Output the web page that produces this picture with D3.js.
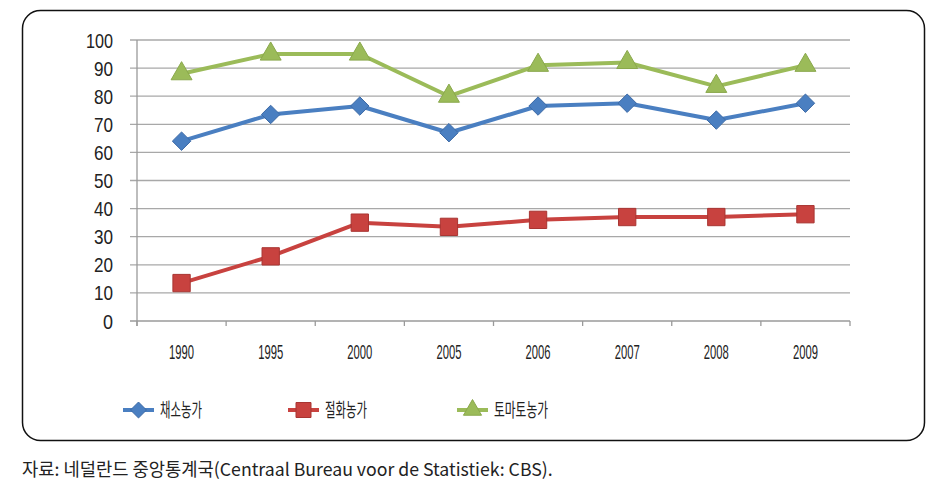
<!DOCTYPE html>
<html><head><meta charset="utf-8">
<script src="https://cdn.jsdelivr.net/npm/d3@7"></script>
<style>body{margin:0;background:#fff}svg{display:block}</style>
</head><body>
<svg id="c" width="943" height="497"></svg>
<script>
const years = ["1990","1995","2000","2005","2006","2007","2008","2009"];
const vegetable = [64, 73.5, 76.5, 67, 76.5, 77.5, 71.5, 77.5];
const flower = [13.5, 23, 35, 33.5, 36, 37, 37, 38];
const tomato = [88, 95, 95, 80, 91, 92, 83.5, 91];
const seriesNames = ["채소농가", "절화농가", "토마토농가"];
const yTicks = [0,10,20,30,40,50,60,70,80,90,100];
const source = "자료: 네덜란드 중앙통계국(Centraal Bureau voor de Statistiek: CBS).";

const svg = d3.select("#c");
svg.append("rect").attr("x",22.5).attr("y",10.5).attr("width",902).attr("height",430)
  .attr("rx",18).attr("fill","#fff").attr("stroke","#111").attr("stroke-width",1.5);

const x = d3.scaleBand().domain(years).range([137,850]);
const y = d3.scaleLinear().domain([0,100]).range([321,40]);
const numFont = "'Liberation Sans Narrow','Liberation Sans',Arial,sans-serif";

const g = svg.append("g");
g.selectAll("line.grid").data(yTicks).join("line")
  .attr("x1",130).attr("x2",850).attr("y1",d=>y(d)).attr("y2",d=>y(d))
  .attr("stroke",d=>d===0?"#9a9a9a":"#a8a8a8").attr("stroke-width",1.3);
g.append("line").attr("x1",137).attr("x2",137).attr("y1",40).attr("y2",326)
  .attr("stroke","#9a9a9a").attr("stroke-width",1.3);
const bounds = years.map(d=>x(d)).concat([850]);
g.selectAll("line.xt").data(bounds).join("line")
  .attr("x1",d=>d).attr("x2",d=>d).attr("y1",321).attr("y2",326)
  .attr("stroke","#9a9a9a").attr("stroke-width",1.3);
g.selectAll("text.yl").data(yTicks).join("text")
  .attr("x",113).attr("y",d=>y(d)).attr("dy","0.36em").attr("text-anchor","end")
  .attr("font-family",numFont).attr("font-size",21).attr("fill","#222")
  .attr("textLength",d=>String(d).length===3?27:(String(d).length===2?19:10))
  .attr("lengthAdjust","spacingAndGlyphs").text(d=>d);
g.selectAll("text.xl").data(years).join("text")
  .attr("x",d=>x(d)+x.bandwidth()/2).attr("y",351).attr("dy","0.36em").attr("text-anchor","middle")
  .attr("font-family",numFont).attr("font-size",21).attr("fill","#222")
  .attr("textLength",25).attr("lengthAdjust","spacingAndGlyphs").text(d=>d);

const diamond = {draw(ctx, size){const r=Math.sqrt(size/2);ctx.moveTo(0,-r);ctx.lineTo(r,0);ctx.lineTo(0,r);ctx.lineTo(-r,0);ctx.closePath();}};
const cx = d => x(d)+x.bandwidth()/2;
const series = [
  {name:seriesNames[0], vals:vegetable, color:"#4a7fc1", stroke:"#3d6aa6", shape:diamond, size:170, tl:42},
  {name:seriesNames[1], vals:flower, color:"#c8423f", stroke:"#a83532", shape:d3.symbolSquare, size:300, tl:42},
  {name:seriesNames[2], vals:tomato, color:"#9bbb59", stroke:"#8aa84c", shape:d3.symbolTriangle, size:190, tl:54}
];
const line = d3.line().x((d,i)=>cx(years[i])).y(d=>y(d));
series.forEach(s=>{
  g.append("path").attr("d",line(s.vals)).attr("fill","none")
    .attr("stroke",s.color).attr("stroke-width",4).attr("stroke-linejoin","round");
  g.selectAll(null).data(s.vals).join("path")
    .attr("transform",(d,i)=>`translate(${cx(years[i])},${y(d)})`)
    .attr("d",d3.symbol().type(s.shape).size(s.size))
    .attr("fill",s.color).attr("stroke",s.stroke).attr("stroke-width",1);
});

const lx = [123, 288, 457];
series.forEach((s,i)=>{
  const lg = svg.append("g").attr("transform",`translate(${lx[i]},410)`);
  lg.append("line").attr("x1",0).attr("x2",31).attr("y1",0).attr("y2",0)
    .attr("stroke",s.color).attr("stroke-width",4);
  lg.append("path").attr("transform","translate(15.5,0)")
    .attr("d",d3.symbol().type(s.shape).size(s.size*0.75)).attr("fill",s.color).attr("stroke",s.stroke);
  lg.append("text").attr("x",37).attr("y",0).attr("dy","0.36em")
    .attr("font-family","'Noto Sans CJK KR',sans-serif").attr("font-size",19)
    .attr("textLength",s.tl).attr("lengthAdjust","spacingAndGlyphs")
    .attr("fill","#222").text(s.name);
});

svg.append("text").attr("x",22).attr("y",476)
  .attr("font-family","'Noto Sans CJK KR',sans-serif").attr("font-size",17.7)
  .attr("fill","#222").text(source);
</script>
</body></html>
